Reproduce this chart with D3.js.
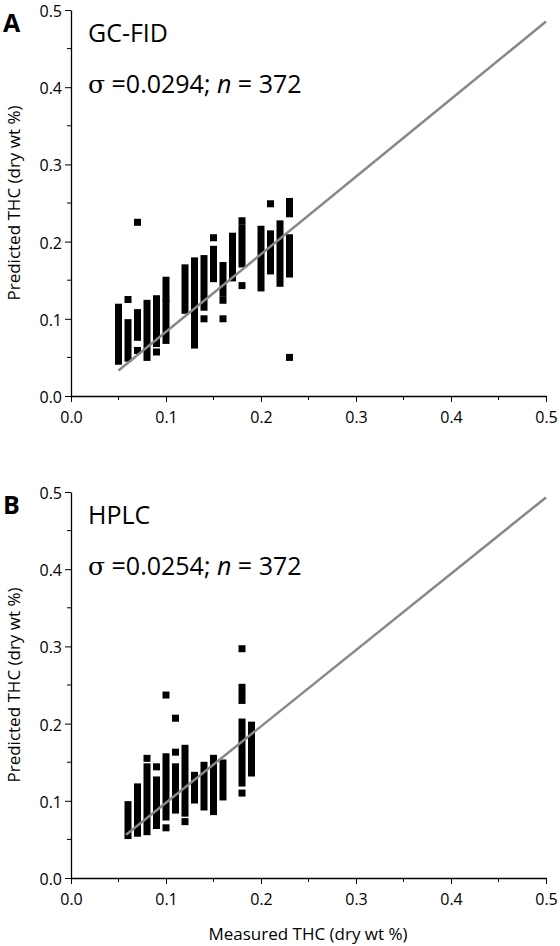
<!DOCTYPE html>
<html><head><meta charset="utf-8">
<script src="https://cdn.jsdelivr.net/npm/d3@7"></script>
<style>body{margin:0;background:#fff}svg{font-family:"Open Sans",Arial,sans-serif}</style>
</head><body>
<script>
// each column: measured x, then runs of stacked points [lo, hi] (lo==hi for single point)
var gcColumns = [
  [0.05, [[0.045,0.058],[0.066,0.115]]],
  [0.06, [[0.049,0.095],[0.125,0.125]]],
  [0.07, [[0.059,0.059],[0.076,0.108],[0.225,0.225]]],
  [0.08, [[0.05,0.12]]],
  [0.09, [[0.057,0.057],[0.068,0.126]]],
  [0.10, [[0.072,0.12],[0.127,0.15]]],
  [0.12, [[0.111,0.166]]],
  [0.13, [[0.066,0.175]]],
  [0.14, [[0.10,0.10],[0.115,0.178]]],
  [0.15, [[0.152,0.19],[0.205,0.205]]],
  [0.16, [[0.10,0.10],[0.124,0.124],[0.133,0.169]]],
  [0.17, [[0.153,0.207]]],
  [0.18, [[0.143,0.143],[0.171,0.218],[0.227,0.227]]],
  [0.20, [[0.14,0.216]]],
  [0.21, [[0.162,0.21],[0.249,0.249]]],
  [0.22, [[0.146,0.223]]],
  [0.23, [[0.05,0.05],[0.158,0.205],[0.236,0.252]]]
];
var hplcColumns = [
  [0.06, [[0.055,0.095]]],
  [0.07, [[0.058,0.118]]],
  [0.08, [[0.06,0.144],[0.155,0.155]]],
  [0.09, [[0.068,0.127],[0.144,0.144]]],
  [0.10, [[0.065,0.065],[0.079,0.157],[0.237,0.237]]],
  [0.11, [[0.088,0.144],[0.163,0.163],[0.207,0.207]]],
  [0.12, [[0.073,0.073],[0.084,0.168]]],
  [0.13, [[0.101,0.133]]],
  [0.14, [[0.092,0.146]]],
  [0.15, [[0.086,0.155]]],
  [0.16, [[0.105,0.149]]],
  [0.18, [[0.11,0.11],[0.123,0.202],[0.23,0.247],[0.297,0.297]]],
  [0.19, [[0.136,0.198]]]
];
var gcFit = [[0.05,0.033],[0.5,0.485]];
var hplcFit = [[0.058,0.056],[0.5,0.493]];
var tickVals = [0,0.1,0.2,0.3,0.4,0.5];
var minorVals = [0.05,0.15,0.25,0.35,0.45];

var svg = d3.select("body").append("svg").attr("width",560).attr("height",946);

function panel(top, bottom, cols, fit, letter, name, sigma, xlabel){
  var x = d3.scaleLinear().domain([0,0.5]).range([71,546]);
  var y = d3.scaleLinear().domain([0,0.5]).range([bottom,top]);
  var g = svg.append("g");
  var sq = 7;
  cols.forEach(function(c){
    c[1].forEach(function(r){
      g.append("rect").attr("x",x(c[0])-sq/2).attr("y",y(r[1])-sq/2)
        .attr("width",sq).attr("height",y(r[0])-y(r[1])+sq).attr("fill","#000");
    });
  });
  g.append("line").attr("x1",x(fit[0][0])).attr("y1",y(fit[0][1]))
    .attr("x2",x(fit[1][0])).attr("y2",y(fit[1][1]))
    .attr("stroke","#888").attr("stroke-width",2.5);

  var xa = g.append("g").attr("transform","translate(0,"+bottom+")")
    .call(d3.axisBottom(x).tickValues(tickVals).tickFormat(d3.format(".1f")).tickSize(6).tickSizeOuter(0));
  minorVals.forEach(function(v){
    g.append("line").attr("x1",x(v)).attr("x2",x(v)).attr("y1",bottom).attr("y2",bottom+4).attr("stroke","#000");
    g.append("line").attr("y1",y(v)).attr("y2",y(v)).attr("x1",71).attr("x2",67).attr("stroke","#000");
  });
  var ya = g.append("g").attr("transform","translate(71,0)")
    .call(d3.axisLeft(y).tickValues(tickVals).tickFormat(d3.format(".1f")).tickSize(6).tickSizeOuter(0));
  [xa,ya].forEach(function(a){
    a.selectAll("text").attr("font-size",16).attr("fill","#000").style("font-family","Open Sans, Arial, sans-serif");
    a.select(".domain").attr("stroke-width",1.3);
  });
  xa.selectAll("text").attr("dy","1.1em");
  ya.selectAll("text").attr("dy","0.4em");

  g.append("text").attr("x",20).attr("y",(top+bottom)/2).attr("transform","rotate(-90,20,"+(top+bottom)/2+")")
    .attr("text-anchor","middle").attr("font-size",17).text("Predicted THC (dry wt %)");
  g.append("text").attr("x",3).attr("y",top+22).attr("font-size",25).attr("font-weight","bold").text(letter);
  g.append("text").attr("x",88).attr("y",top+32).attr("font-size",25).text(name);
  var s = g.append("text").attr("x",88).attr("y",top+83).attr("font-size",25);
  s.append("tspan").text("σ").attr("font-family","DejaVu Serif");
  s.append("tspan").text("  =" + sigma + "; ");
  s.append("tspan").attr("font-style","italic").text("n");
  s.append("tspan").text(" = 372");
  if(xlabel) g.append("text").attr("x",308).attr("y",bottom+62).attr("text-anchor","middle").attr("font-size",17).text(xlabel);
}

panel(10, 396, gcColumns, gcFit, "A", "GC-FID", "0.0294");
panel(492, 878, hplcColumns, hplcFit, "B", "HPLC", "0.0254", "Measured THC (dry wt %)");
</script>
</body></html>
